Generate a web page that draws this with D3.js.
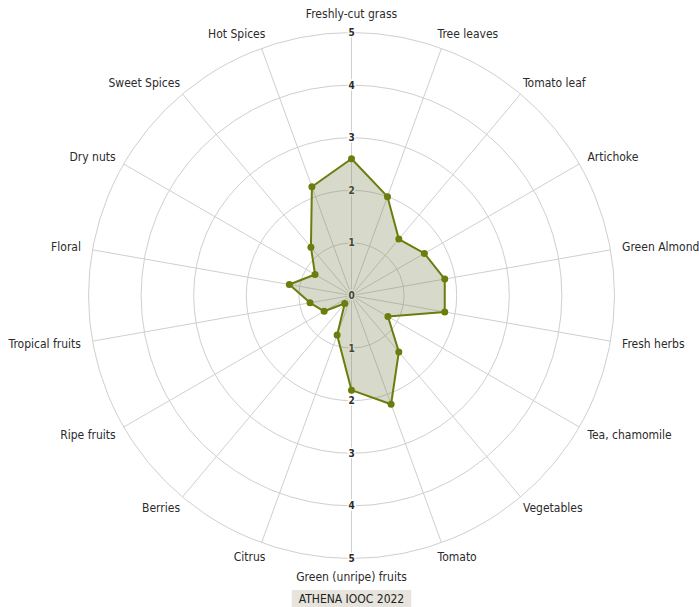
<!DOCTYPE html>
<html lang="en">
<head>
<meta charset="UTF-8">
<title>ATHENA IOOC 2022 - sensory profile</title>
<script src="https://d3js.org/d3.v7.min.js"></script>
<style>
    body { margin: 0; background: #fff; }
    svg { display: block; font-family: "DejaVu Sans Condensed", "DejaVu Sans", sans-serif; }
    .grid { fill: none; stroke: #cfcfcf; stroke-width: 1; }
    .spoke { stroke: #cfcfcf; stroke-width: 1; }
    .axis-name { font-size: 12px; fill: #2b2b2b; }
    .tick { font-size: 10px; font-weight: bold; fill: #2b2b2b; stroke: #fff; stroke-width: 3; paint-order: stroke; }
</style>
</head>
<body>
<svg id="chart" width="699" height="607"></svg>
<script>
// attributes, clockwise from the top
const attributes = ["Freshly-cut grass", "Tree leaves", "Tomato leaf", "Artichoke", "Green Almond",
    "Fresh herbs", "Tea, chamomile", "Vegetables", "Tomato", "Green (unripe) fruits", "Citrus",
    "Berries", "Ripe fruits", "Tropical fruits", "Floral", "Dry nuts", "Sweet Spices", "Hot Spices"];
const scores = [2.6, 2.0, 1.4, 1.6, 1.8, 1.8, 0.8, 1.4, 2.2, 1.8, 0.8, 0.2, 0.6, 0.8, 1.2, 0.8, 1.2, 2.2];
const tickValues = [0, 1, 2, 3, 4, 5];
const caption = "ATHENA IOOC 2022";

const svg = d3.select("#chart");
const cx = 351.5, cy = 295.5, R = 263;

const r = d3.scaleLinear().domain([0, 5]).range([0, R]);
const angle = d3.scaleLinear().domain([0, attributes.length]).range([0, 2 * Math.PI]);

const g = svg.append("g").attr("transform", `translate(${cx},${cy})`);

// grid circles
g.selectAll("circle.grid")
    .data(tickValues.filter(d => d > 0))
    .join("circle")
    .attr("class", "grid")
    .attr("r", d => r(d));

// spokes
g.selectAll("line.spoke")
    .data(attributes)
    .join("line")
    .attr("class", "spoke")
    .attr("x1", 0).attr("y1", 0)
    .attr("x2", (d, i) => R * Math.sin(angle(i)))
    .attr("y2", (d, i) => -R * Math.cos(angle(i)));

// tick labels on the vertical axis (up and down), under the series
g.selectAll("text.tick-up")
    .data(tickValues)
    .join("text")
    .attr("class", "tick")
    .attr("text-anchor", "middle")
    .attr("dominant-baseline", "central")
    .attr("y", d => -r(d))
    .text(d => d);
g.selectAll("text.tick-down")
    .data(tickValues.filter(d => d > 0))
    .join("text")
    .attr("class", "tick")
    .attr("text-anchor", "middle")
    .attr("dominant-baseline", "central")
    .attr("y", d => r(d))
    .text(d => d);

// axis names
g.selectAll("text.axis-name")
    .data(attributes)
    .join("text")
    .attr("class", "axis-name")
    .attr("dominant-baseline", "central")
    .each(function (d, i) {
        const a = angle(i), s = Math.sin(a), c = Math.cos(a);
        const ex = R * s, ey = -R * c;
        let anchor = "middle", x = ex, y;
        if (Math.abs(s) > 0.01) {
            anchor = s > 0 ? "start" : "end";
            x = ex + 12 * s - Math.sign(s) * 9 * c * c;
            y = ey - 15 * c;
        } else {
            y = ey - 18.5 * c;
        }
        d3.select(this).attr("text-anchor", anchor).attr("x", x).attr("y", y);
    })
    .text(d => d);

// series
const radar = d3.lineRadial()
    .angle((d, i) => angle(i))
    .radius(d => r(d))
    .curve(d3.curveLinearClosed);

g.append("path")
    .datum(scores)
    .attr("d", radar)
    .attr("fill", "#7a8450")
    .attr("fill-opacity", 0.3)
    .attr("stroke", "#6b7d0c")
    .attr("stroke-width", 2)
    .attr("stroke-linejoin", "round");

g.selectAll("circle.dot")
    .data(scores)
    .join("circle")
    .attr("class", "dot")
    .attr("cx", (d, i) => r(d) * Math.sin(angle(i)))
    .attr("cy", (d, i) => -r(d) * Math.cos(angle(i)))
    .attr("r", 3.5)
    .attr("fill", "#6b7d0c");

// caption box at the bottom
const cap = svg.append("g");
const capText = cap.append("text")
    .attr("x", cx)
    .attr("y", 598.5)
    .attr("text-anchor", "middle")
    .attr("dominant-baseline", "central")
    .attr("font-size", 12)
    .attr("fill", "#222")
    .text(caption);
const bb = capText.node().getBBox();
cap.insert("rect", "text")
    .attr("x", bb.x - 7)
    .attr("y", 590)
    .attr("width", bb.width + 14)
    .attr("height", 18)
    .attr("fill", "#e6e4dc");
</script>
</body>
</html>
